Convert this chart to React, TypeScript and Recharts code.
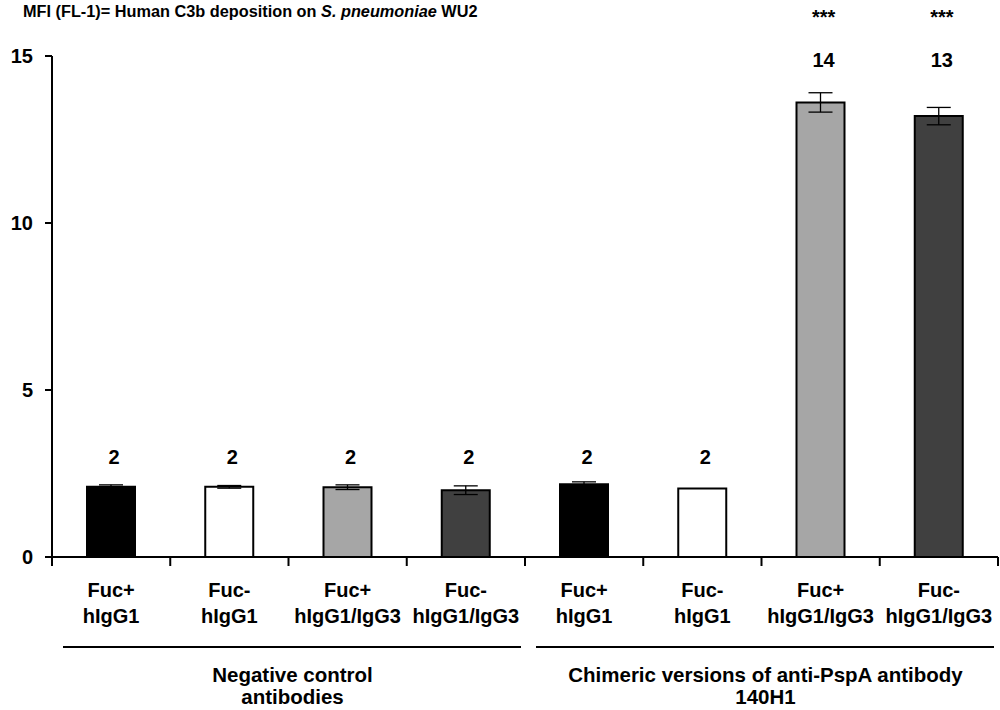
import React from 'react';
import { ComposedChart, Bar, Cell, XAxis, YAxis, ErrorBar, Scatter } from 'recharts';

const topLines = ['Fuc+', 'Fuc-', 'Fuc+', 'Fuc-', 'Fuc+', 'Fuc-', 'Fuc+', 'Fuc-'];
const bottomLines = ['hIgG1', 'hIgG1', 'hIgG1/IgG3', 'hIgG1/IgG3', 'hIgG1', 'hIgG1', 'hIgG1/IgG3', 'hIgG1/IgG3'];
const values = [2.1, 2.1, 2.09, 2.0, 2.18, 2.05, 13.61, 13.2];
const errors = [0.06, 0.04, 0.07, 0.13, 0.07, 0, 0.29, 0.26];
const labelPos = [3.0, 3.0, 3.0, 3.0, 3.0, 3.0, 14.88, 14.88];
const stars = ['', '', '', '', '', '', '***', '***'];
const fills = ['#000000', '#ffffff', '#a6a6a6', '#404040', '#000000', '#ffffff', '#a6a6a6', '#404040'];
const yTicks = [0, 5, 10, 15];
const groupLabels = [['Negative control', 'antibodies'], ['Chimeric versions of anti-PspA antibody', '140H1']];
const groupSizes = [4, 4];

const FONT = '"Liberation Sans", Arial, sans-serif';
const W = 1000;
const H = 710;
const MARGIN = { top: 56, right: 2, left: 0, bottom: 0 };
const Y_W = 52;
const BAND = (W - MARGIN.left - MARGIN.right - Y_W) / values.length;

const data = values.map((v, i) => ({
  name: topLines[i] + ' ' + bottomLines[i],
  value: v,
  err: errors[i],
  labelY: labelPos[i],
  star: stars[i],
}));

const groupStarts = groupSizes.map((_, g) => groupSizes.slice(0, g).reduce((a, b) => a + b, 0));

const txt = { textAnchor: 'middle' as const, fontWeight: 'bold', fontFamily: FONT, fill: '#000' };

function CatTick(props: any) {
  const { x, y, index } = props;
  const g = groupStarts.indexOf(index);
  const left = x - BAND / 2;
  let group = null;
  if (g >= 0) {
    const right = left + groupSizes[g] * BAND;
    const mid = (left + right) / 2 + 4;
    group = (
      <g>
        <line x1={left + 11} x2={right - 4} y1={y + 90} y2={y + 90} stroke="#000" strokeWidth={2} />
        {groupLabels[g].map((t, k) => (
          <text key={k} x={mid} y={y + 125} dy={k * 22} fontSize={20.5} {...txt}>
            {t}
          </text>
        ))}
      </g>
    );
  }
  return (
    <g>
      <line x1={left} x2={left} y1={y} y2={y + 9} stroke="#000" strokeWidth={2} />
      {index === values.length - 1 ? (
        <line x1={left + BAND} x2={left + BAND} y1={y} y2={y + 9} stroke="#000" strokeWidth={2} />
      ) : null}
      <text x={x} y={y + 40} fontSize={20} {...txt}>
        {topLines[index]}
      </text>
      <text x={x} y={y + 66} fontSize={20} {...txt}>
        {bottomLines[index]}
      </text>
      {group}
    </g>
  );
}

function ValueLabel(props: any) {
  const { cx, cy, payload } = props;
  return (
    <g>
      <text x={cx + 3} y={cy} dy="0.35em" fontSize={20} {...txt}>
        {Math.round(payload.value)}
      </text>
      {payload.star ? (
        <text x={cx + 3} y={cy - 43} dy="0.35em" fontSize={20} {...txt}>
          {payload.star}
        </text>
      ) : null}
    </g>
  );
}

export default function App() {
  return (
    <div style={{ position: 'absolute', left: 0, top: 0, width: W, height: H, background: '#fff' }}>
      <div
        style={{
          position: 'absolute',
          left: 23,
          top: 3,
          fontFamily: FONT,
          fontWeight: 'bold',
          fontSize: 16.3,
          lineHeight: 1,
          whiteSpace: 'nowrap',
          color: '#000',
        }}
      >
        MFI (FL-1)= Human C3b deposition on <i>S. pneumoniae</i> WU2
      </div>
      <ComposedChart width={W} height={H} data={data} margin={MARGIN}>
        <XAxis
          dataKey="name"
          type="category"
          interval={0}
          height={153}
          tickLine={false}
          tickSize={0}
          tickMargin={0}
          axisLine={{ stroke: '#000', strokeWidth: 2 }}
          tick={<CatTick />}
        />
        <YAxis
          domain={[0, 15]}
          ticks={yTicks}
          width={Y_W}
          tickSize={7}
          tickMargin={12}
          axisLine={{ stroke: '#000', strokeWidth: 2 }}
          tickLine={{ stroke: '#000', strokeWidth: 2 }}
          tick={{ fontSize: 20, fontWeight: 'bold', fontFamily: FONT, fill: '#000' }}
        />
        <Bar dataKey="value" barSize={48} stroke="#000" strokeWidth={2} isAnimationActive={false}>
          {data.map((d, i) => (
            <Cell key={i} fill={fills[i]} />
          ))}
          <ErrorBar dataKey="err" width={12} stroke="#000" strokeWidth={1.3} />
        </Bar>
        <Scatter dataKey="labelY" shape={<ValueLabel />} isAnimationActive={false} />
      </ComposedChart>
    </div>
  );
}
